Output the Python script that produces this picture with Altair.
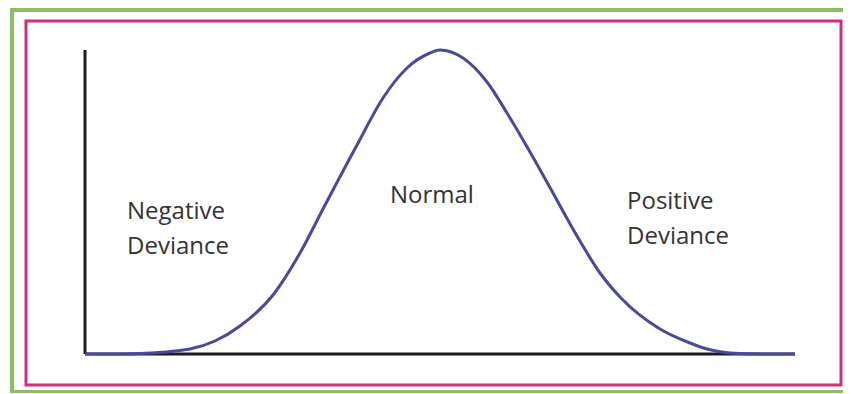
import altair as alt
import pandas as pd

# Bell curve values (horizontal units, height units)
curve_x = [0, 35, 65, 105, 130, 155, 188, 215, 238, 272, 298, 322, 345, 355,
           378, 402, 422, 445, 468, 492, 515, 535, 575, 605, 622, 645, 675, 710]
curve_y = [0, 0, 1, 5, 13, 28, 59, 101, 145, 209, 256, 286, 301, 304,
           296, 272, 241, 202, 161, 118, 81, 57, 25, 11, 5, 1, 0, 0]

# Annotations (text and anchor in data units)
label_text = ["Negative\nDeviance", "Normal", "Positive\nDeviance"]
label_x = [42, 305, 542]
label_y = [135, 151, 145]

curve = pd.DataFrame({"x": curve_x, "y": curve_y})
labels = pd.DataFrame({"text": label_text, "x": label_x, "y": label_y})
axes_df = pd.DataFrame({
    "x0": [min(curve_x), min(curve_x)],
    "x1": [max(curve_x), min(curve_x)],
    "y0": [0, 0],
    "y1": [0, max(curve_y)],
})

xs = alt.Scale(domain=[-59, 756], nice=False, zero=False)
ys = alt.Scale(domain=[-31, 333], nice=False, zero=False)

one = pd.DataFrame({"a": [0]})
GREEN = "#8dbd62"
frame_left = alt.Chart(one).mark_rule(color=GREEN, strokeWidth=4).encode(
    x=alt.value(-14), y=alt.value(-13), y2=alt.value(373)
)
frame_top = alt.Chart(one).mark_rule(color=GREEN, strokeWidth=4).encode(
    x=alt.value(-16), x2=alt.value(817), y=alt.value(-11)
)
frame_bottom = alt.Chart(one).mark_rule(color=GREEN, strokeWidth=4).encode(
    x=alt.value(-16), x2=alt.value(817), y=alt.value(371)
)

axis_lines = alt.Chart(axes_df).mark_rule(color="#1b1b24", strokeWidth=3).encode(
    x=alt.X("x0:Q", scale=xs, axis=None),
    x2="x1:Q",
    y=alt.Y("y0:Q", scale=ys, axis=None),
    y2="y1:Q",
)

line = alt.Chart(curve).mark_line(
    color="#4a4a98", strokeWidth=3, interpolate="monotone"
).encode(
    x=alt.X("x:Q", scale=xs, axis=None),
    y=alt.Y("y:Q", scale=ys, axis=None),
)

text = alt.Chart(labels).mark_text(
    align="left", baseline="alphabetic", font="Open Sans", fontSize=24,
    color="#333333", lineBreak="\n", lineHeight=35
).encode(
    x=alt.X("x:Q", scale=xs, axis=None),
    y=alt.Y("y:Q", scale=ys, axis=None),
    text="text:N",
)

chart = alt.layer(frame_left, frame_top, frame_bottom, axis_lines, line, text).properties(
    width=815,
    height=364,
    padding={"left": 18, "top": 13, "right": 2, "bottom": 8},
    autosize=alt.AutoSizeParams(type="none"),
    background="white",
).configure_view(stroke="#c9327f", strokeWidth=3)

chart.save("out.html", embed_options={"renderer": "svg", "actions": False})
